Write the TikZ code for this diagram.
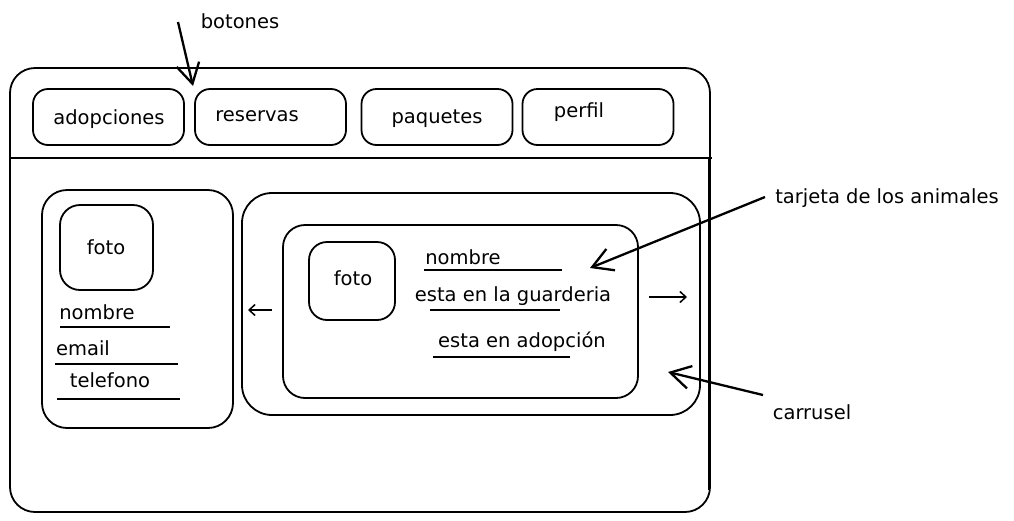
\documentclass[tikz,border=0pt]{standalone}
\usepackage{fontspec}
\setmainfont{DejaVu Sans}
\usetikzlibrary{arrows.meta}
\tikzset{
	caja/.style={draw, line width=1.8pt, rounded corners=#1},
	boton/.style={caja=15pt, minimum width=151pt, minimum height=56pt, inner sep=0pt},
	texto/.style={font=\fontsize{19.5}{22}\selectfont, inner sep=0pt},
	linea/.style={line width=2.3pt},
	flecha/.style={line width=2.3pt, -{Straight Barb[length=20pt,width=23pt]}},
	flechita/.style={line width=1.5pt, -{Straight Barb[length=6pt,width=11pt]}}
}

\begin{document}
\begin{tikzpicture}[x=1pt,y=-1pt]
	\useasboundingbox (0,0) rectangle (1014,520);
	% marco y barra
	\draw[caja=25pt] (10,68) rectangle (710,512);
	\draw[linea, line width=2.6pt] (10,158) -- (712,158);
	\draw[line width=2.6pt] (709,158) -- (709,490);

	% botones
	\node[boton] (bAdop) at (108.5,117) {};
	\node[boton] (bRes) at (270.5,117) {};
	\node[boton] (bPaq) at (437,117) {};
	\node[boton] (bPerf) at (598,117) {};
	\node[texto] (tAdop) at (109,119) {adopciones};
	\node[texto] (tRes) at (257,116) {reservas};
	\node[texto] (tPaq) at (437,119) {paquetes};
	\node[texto] (tPerf) at (579,112) {perfil};

	% perfil
	\draw[caja=25pt] (42,190) rectangle (233,428);
	\draw[caja=20pt] (60,205) rectangle (153,290);
	\node[texto] (fotoIzq) at (106,247) {foto};
	\node[texto] (nomIzq) at (97,312) {nombre};
	\draw[linea] (60,327) -- (170,327);
	\node[texto] (email) at (83,348) {email};
	\draw[linea] (55,364) -- (178,364);
	\node[texto] (tel) at (110,380) {telefono};
	\draw[linea] (57,399) -- (180,399);

	% carrusel
	\draw[caja=30pt] (242,193) rectangle (700,415);
	\draw[caja=22pt] (283,225) rectangle (638,398);
	\draw[caja=18pt] (309,242) rectangle (395,320);
	\node[texto] (fotoDer) at (353,278) {foto};
	\node[texto] (nomDer) at (463,257) {nombre};
	\draw[linea] (424,270) -- (562,270);
	\node[texto] (guard) at (513,296) {esta en la guarderia};
	\draw[linea] (430,310) -- (560,310);
	\node[texto] (adop) at (522,342) {esta en adopción};
	\draw[linea] (433,357) -- (570,357);
	\coordinate (izqA) at (272,310);
	\coordinate (izqB) at (248,310);
	\draw[flechita] (izqA) -- (izqB);
	\coordinate (derA) at (649,297);
	\coordinate (derB) at (687,297);
	\draw[flechita] (derA) -- (derB);

	% anotaciones
	\node[texto] (botones) at (240,21) {botones};
	\coordinate (botIni) at (178,22);
	\coordinate (botFin) at (193,86);
	\draw[flecha] (botIni) -- (botFin);
	\node[texto] (tarjeta) at (887,198) {tarjeta de los animales};
	\coordinate (tarIni) at (765,197);
	\coordinate (tarFin) at (590,268);
	\draw[flecha] (tarIni) -- (tarFin);
	\node[texto] (carrusel) at (812,412) {carrusel};
	\coordinate (carIni) at (763,395);
	\coordinate (carFin) at (668,372);
	\draw[flecha] (carIni) -- (carFin);
\end{tikzpicture}
\end{document}
